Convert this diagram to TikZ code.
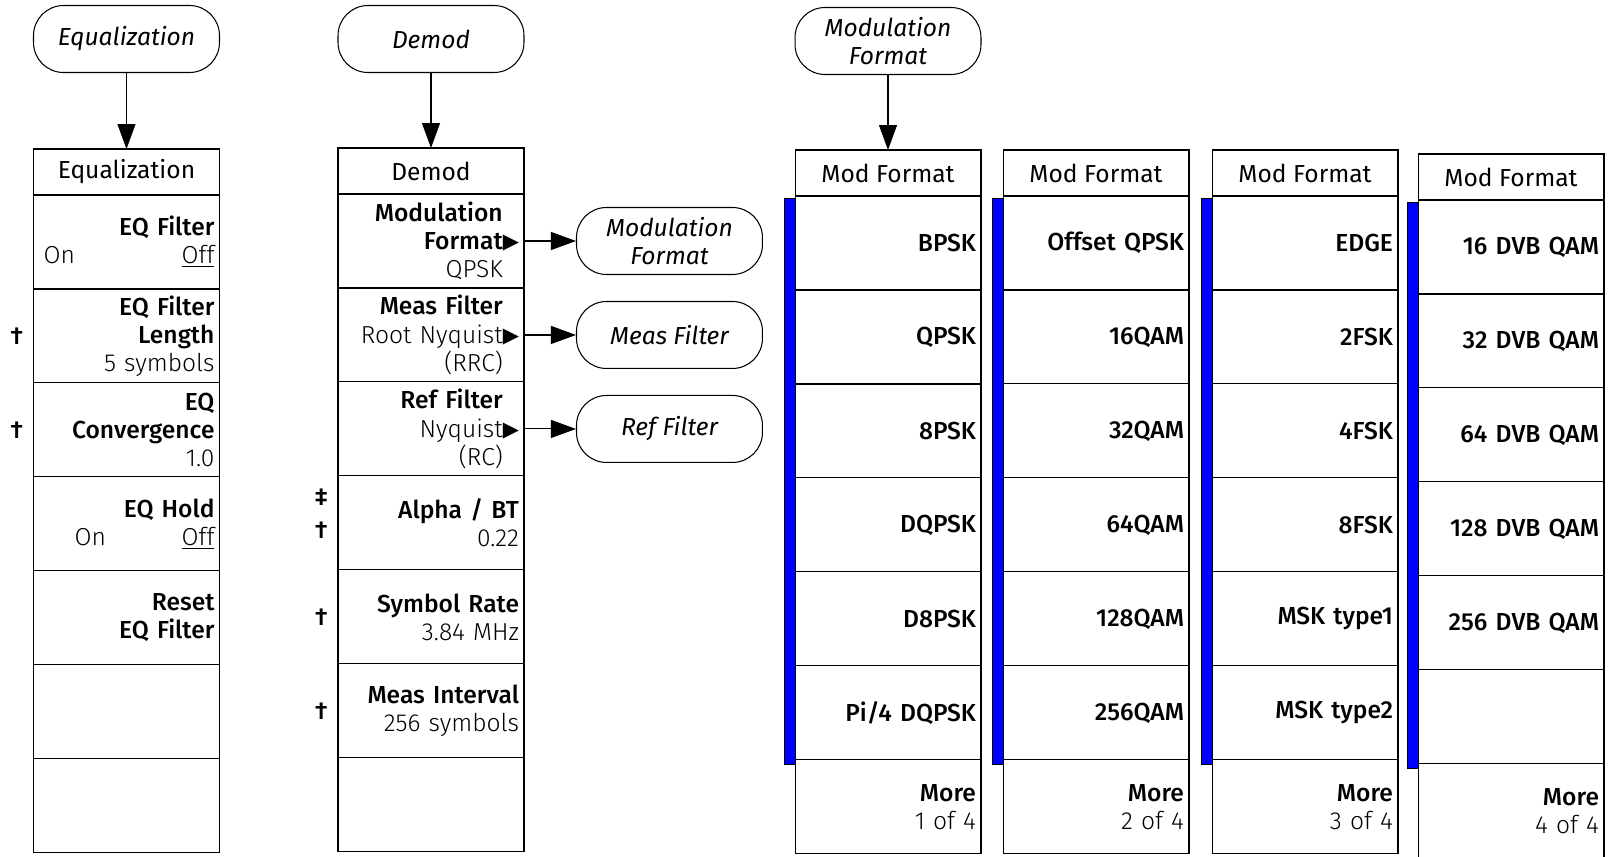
\documentclass[tikz,border=0pt]{standalone}
\usepackage{fontspec}
\setmainfont{Fira Sans}[UprightFont=* Medium,ItalicFont=* Italic]
\newfontfamily\regfont{Fira Sans}
\newfontfamily\litefont{Fira Sans Light}
\newfontfamily\symfont{DejaVu Sans}
\usetikzlibrary{positioning,arrows.meta}
\newcommand\subtri{{\symfont\fontsize{12}{12}\selectfont\raisebox{0.5pt}{▶}}}
\newcommand\onoff[1]{\hspace*{#1}{\litefont On}\hspace{0pt plus 1filll}{\litefont\underline{Off}}}

\begin{document}
\begin{tikzpicture}[x=0.02cm,y=-0.02cm,
    every node/.style={font=\fontsize{14}{16}\selectfont},
    menutitle/.style={draw,line width=0.6pt,outer sep=0pt,inner sep=0pt,minimum width=3.72cm,minimum height=0.92cm,font=\fontsize{14}{16}\selectfont\regfont},
    softkey/.style={draw,line width=0.6pt,outer sep=0pt,inner xsep=0.1cm,inner ysep=0pt,minimum width=3.72cm,minimum height=1.88cm,text width=3.52cm,align=right},
    keyoval/.style={draw,line width=0.6pt,rounded corners=0.6cm,minimum width=3.72cm,minimum height=1.34cm,align=center,font=\fontsize{14}{16}\selectfont\itshape},
    footsym/.style={inner sep=0pt,align=center},
    bluebar/.style={fill=blue,draw=black,line width=0.4pt},
    arr/.style={line width=0.6pt,-{Triangle[length=0.5cm,width=0.36cm]}}]
  \useasboundingbox (0,0) rectangle (1612,856);

  % Equalization menu
  \node[menutitle] (eqT) at (126.5,172) {Equalization};
  \node[softkey,below=0pt of eqT] (eq1) {EQ Filter\\\onoff{0.1cm}};
  \node[softkey,below=0pt of eq1] (eq2) {EQ Filter\\Length\\{\litefont 5 symbols}};
  \node[softkey,below=0pt of eq2] (eq3) {EQ\\Convergence\\{\litefont 1.0}};
  \node[softkey,below=0pt of eq3] (eq4) {EQ Hold\\\onoff{0.72cm}};
  \node[softkey,below=0pt of eq4] (eq5) {Reset\\EQ Filter};
  \node[softkey,below=0pt of eq5] (eq6) {};
  \node[softkey,below=0pt of eq6] (eq7) {};
  \node[footsym,left=0.2cm of eq2] (dg1) {†};
  \node[footsym,left=0.2cm of eq3] (dg2) {†};
  \node[keyoval,above=1.52cm of eqT] (eqO) {Equalization};
  \draw[arr] (eqO) -- (eqT);

  % Demod menu
  \node[menutitle] (dmT) at (431,171) {Demod};
  \node[softkey,below=0pt of dmT] (dm1) {Modulation\phantom{\subtri}\\Format\subtri\\{\litefont QPSK}\phantom{\subtri}};
  \node[softkey,below=0pt of dm1] (dm2) {Meas Filter\phantom{\subtri}\\{\litefont Root Nyquist}\subtri\\{\litefont (RRC)}\phantom{\subtri}};
  \node[softkey,below=0pt of dm2] (dm3) {Ref Filter\phantom{\subtri}\\{\litefont Nyquist}\subtri\\{\litefont (RC)}\phantom{\subtri}};
  \node[softkey,below=0pt of dm3] (dm4) {Alpha / BT\\{\litefont 0.22}};
  \node[softkey,below=0pt of dm4] (dm5) {Symbol Rate\\{\litefont 3.84 MHz}};
  \node[softkey,below=0pt of dm5] (dm6) {Meas Interval\\{\litefont 256 symbols}};
  \node[softkey,below=0pt of dm6] (dm7) {};
  \node[footsym,left=0.2cm of dm4,yshift=0.18cm] (dg3) {‡\\[3pt]†};
  \node[footsym,left=0.2cm of dm5] (dg4) {†};
  \node[footsym,left=0.2cm of dm6] (dg5) {†};
  \node[keyoval,above=1.5cm of dmT] (dmO) {Demod};
  \draw[arr] (dmO) -- (dmT);
  \node[keyoval,right=1.04cm of dm1] (ovMod) {Modulation\\Format};
  \node[keyoval,right=1.04cm of dm2] (ovMeas) {Meas Filter};
  \node[keyoval,right=1.04cm of dm3] (ovRef) {Ref Filter};
  \draw[arr] (dm1.east) -- (ovMod.west);
  \draw[arr] (dm2.east) -- (ovMeas.west);
  \draw[arr] (dm3.east) -- (ovRef.west);

  % Mod Format menus, 1 of 4 .. 4 of 4
  \node[menutitle] (mAT) at (888,173) {Mod Format};
  \foreach \i/\lab [remember=\i as \j (initially T)] in {1/BPSK,2/QPSK,3/8PSK,4/DQPSK,5/D8PSK,6/{Pi/4 DQPSK}}
    \node[softkey,below=0pt of mA\j] (mA\i) {\lab};
  \node[softkey,below=0pt of mA6] (mA7) {More\\{\litefont 1 of 4}};
  \draw[line width=1.4pt] (mA2.north west) rectangle (mA2.south east);
  \node[keyoval,above=1.5cm of mAT] (mfO) {Modulation\\Format};
  \draw[arr] (mfO) -- (mAT);

  \node[menutitle] (mBT) at (1096,173) {Mod Format};
  \foreach \i/\lab [remember=\i as \j (initially T)] in {1/Offset QPSK,2/16QAM,3/32QAM,4/64QAM,5/128QAM,6/256QAM}
    \node[softkey,below=0pt of mB\j] (mB\i) {\lab};
  \node[softkey,below=0pt of mB6] (mB7) {More\\{\litefont 2 of 4}};

  \node[menutitle] (mCT) at (1305,173) {Mod Format};
  \foreach \i/\lab [remember=\i as \j (initially T)] in {1/EDGE,2/2FSK,3/4FSK,4/8FSK,5/MSK type1,6/MSK type2}
    \node[softkey,below=0pt of mC\j] (mC\i) {\lab};
  \node[softkey,below=0pt of mC6] (mC7) {More\\{\litefont 3 of 4}};

  \node[menutitle] (mDT) at (1511,177) {Mod Format};
  \foreach \i/\lab [remember=\i as \j (initially T)] in {1/16 DVB QAM,2/32 DVB QAM,3/64 DVB QAM,4/128 DVB QAM,5/256 DVB QAM,6/{}}
    \node[softkey,below=0pt of mD\j] (mD\i) {\lab};
  \node[softkey,below=0pt of mD6] (mD7) {More\\{\litefont 4 of 4}};

  % blue bars beside the selectable keys
  \foreach \m in {mA,mB,mC,mD}
    \draw[bluebar] ([xshift=-0.22cm,yshift=-0.04cm]\m1.north west) rectangle ([xshift=0.01cm,yshift=-0.08cm]\m6.south west);
\end{tikzpicture}
\end{document}
